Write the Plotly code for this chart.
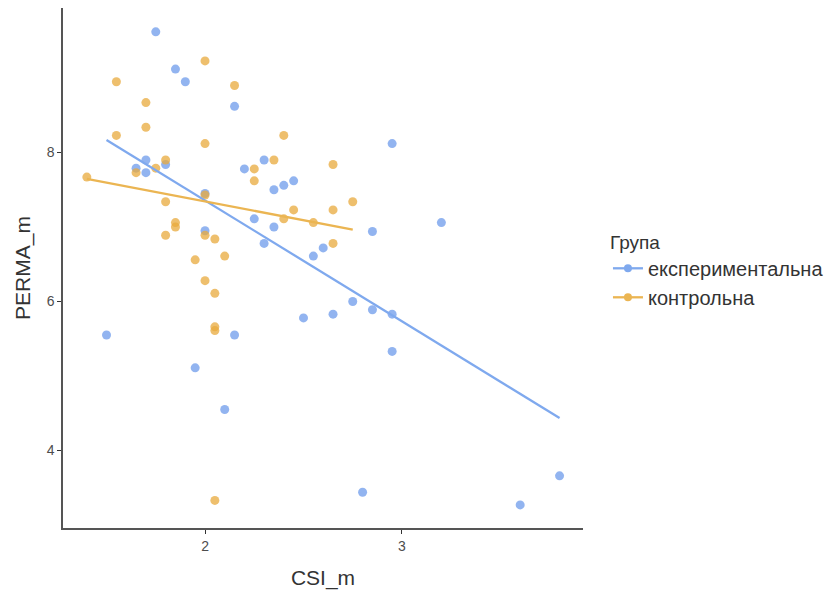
import numpy as np
import plotly.graph_objects as go

# experimental group
exp_x = [1.75, 1.85, 1.90, 2.15, 1.70, 1.65, 1.70, 1.80, 2.20, 2.30, 2.35, 2.40,
         2.45, 2.00, 2.25, 2.35, 2.00, 2.30, 2.55, 2.60, 1.50, 2.15, 1.95, 2.10,
         2.50, 2.65, 2.75, 2.95, 3.20, 2.85, 2.85, 2.95, 2.95, 2.80, 3.60, 3.80]
exp_y = [9.62, 9.12, 8.95, 8.62, 7.90, 7.79, 7.73, 7.84, 7.78, 7.90, 7.50, 7.56,
         7.62, 7.45, 7.11, 7.00, 6.95, 6.78, 6.61, 6.72, 5.55, 5.55, 5.11, 4.55,
         5.78, 5.83, 6.00, 8.12, 7.06, 6.94, 5.89, 5.83, 5.33, 3.44, 3.27, 3.66]

# control group
ctl_x = [2.00, 1.55, 2.15, 1.70, 1.70, 1.55, 2.40, 2.00, 2.35, 1.80, 2.65, 1.65,
         1.75, 2.25, 2.25, 1.40, 1.80, 2.75, 2.45, 2.65, 2.40, 2.55, 1.85, 1.85,
         1.80, 2.00, 2.05, 2.65, 1.95, 2.10, 2.00, 2.05, 2.05, 2.05, 2.05, 2.00]
ctl_y = [9.23, 8.95, 8.90, 8.67, 8.34, 8.23, 8.23, 8.12, 7.90, 7.90, 7.84, 7.73,
         7.79, 7.78, 7.62, 7.67, 7.34, 7.34, 7.23, 7.23, 7.11, 7.06, 7.06, 7.00,
         6.89, 6.89, 6.84, 6.78, 6.56, 6.61, 6.28, 6.11, 5.66, 5.61, 3.33, 7.43]

group_names = ["експериментальна", "контрольна"]
line_colors = ["#7FA9EE", "#EBB552"]
point_colors = ["rgba(110,155,235,0.75)", "rgba(232,170,60,0.75)"]

fig = go.Figure()
groups = [(exp_x, exp_y), (ctl_x, ctl_y)]
for i, (gx, gy) in enumerate(groups):
    fig.add_trace(go.Scatter(x=gx, y=gy, mode="markers",
                             marker=dict(size=9, color=point_colors[i]),
                             showlegend=False))
for i, (gx, gy) in enumerate(groups):
    xa = np.array(gx)
    ya = np.array(gy)
    b, a = np.polyfit(xa, ya, 1)
    lx = np.array([xa.min(), xa.max()])
    fig.add_trace(go.Scatter(x=lx, y=a + b * lx, mode="lines",
                             line=dict(color=line_colors[i], width=2.3),
                             showlegend=False))
for i in range(2):
    fig.add_trace(go.Scatter(x=[None], y=[None], mode="lines+markers",
                             name=group_names[i],
                             line=dict(color=line_colors[i], width=2.3),
                             marker=dict(size=8, color=line_colors[i])))

font_family = "Liberation Sans, Arial, sans-serif"
fig.update_layout(
    width=825, height=583,
    margin=dict(l=55, r=250, t=0, b=63),
    paper_bgcolor="white", plot_bgcolor="white",
    font=dict(family=font_family, color="#333333"),
    xaxis=dict(range=[1.279, 3.919], tickvals=[2, 3], ticks="outside",
               ticklen=4, tickcolor="#333333", showline=True, linecolor="#555555",
               linewidth=1.5, showgrid=False, zeroline=False,
               tickfont=dict(size=14, color="#4D4D4D"),
               title=dict(text="CSI_m", font=dict(size=21, color="#333333"), standoff=18)),
    yaxis=dict(range=[2.96, 9.94], tickvals=[4, 6, 8], ticks="outside",
               ticklen=4, tickcolor="#333333", showline=True, linecolor="#555555",
               linewidth=1.5, showgrid=False, zeroline=False,
               tickfont=dict(size=14, color="#4D4D4D"),
               title=dict(text="PERMA_m", font=dict(size=21, color="#333333"), standoff=10)),
    legend=dict(x=1.048, xanchor="left", y=0.495, yanchor="middle",
                title=dict(text="Група", font=dict(size=19, color="#333333")),
                font=dict(size=20, color="#333333"), itemwidth=30,
                tracegroupgap=0),
)

fig.write_html("out.html")
